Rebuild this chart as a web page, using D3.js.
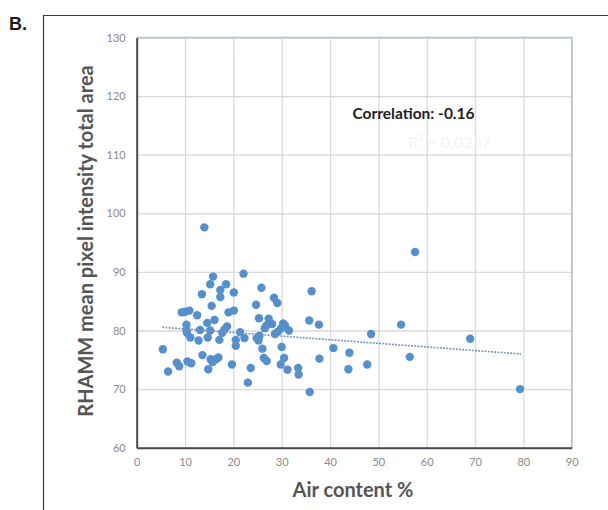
<!DOCTYPE html>
<html>
<head>
<meta charset="utf-8">
<script src="https://cdn.jsdelivr.net/npm/d3@7"></script>
<style>
  html, body { margin: 0; padding: 0; background: #fff; }
  svg { display: block; }
</style>
</head>
<body>
<svg id="chart" width="608" height="510"></svg>
<script>
// Air content (%) of each sample
const airContent = [
  5.4, 6.5, 8.3, 8.8, 9.3, 10.0, 10.9, 10.3, 10.3, 10.4,
  10.5, 11.3, 11.1, 12.5, 12.8, 13.1, 13.5, 13.6, 14.0, 14.6,
  14.7, 14.8, 15.2, 15.2, 15.5, 15.8, 15.3, 15.7, 16.4, 16.9,
  16.1, 17.3, 17.3, 17.1, 17.7, 18.2, 18.7, 18.5, 19.0, 19.7,
  20.1, 20.1, 20.5, 20.5, 21.4, 22.1, 22.3, 23.0, 23.6, 24.7,
  24.8, 25.4, 25.2, 25.3, 25.8, 26.0, 26.3, 26.9, 27.3, 26.8,
  26.5, 28.0, 28.4, 29.1, 30.3, 30.7, 29.9, 29.2, 28.6, 31.5,
  30.0, 30.5, 29.8, 31.2, 33.4, 33.5, 35.8, 36.2, 35.7, 37.7,
  37.8, 40.7, 44.0, 43.8, 47.7, 48.5, 54.7, 56.5, 57.6, 69.0,
  79.3
];
// RHAMM mean pixel intensity over the total area, same order
const rhammIntensity = [
  76.8, 73.0, 74.5, 73.9, 83.1, 83.2, 83.4, 81.0, 80.1, 79.6,
  74.7, 74.4, 78.8, 82.6, 78.3, 80.1, 86.2, 75.8, 97.6, 81.3,
  78.8, 73.4, 87.9, 80.0, 84.2, 89.2, 75.1, 74.6, 75.1, 75.4,
  81.8, 86.9, 85.7, 78.4, 79.6, 80.2, 80.7, 87.9, 83.1, 74.2,
  86.5, 83.4, 78.4, 77.4, 79.7, 89.7, 78.7, 71.1, 73.6, 84.4,
  78.7, 79.1, 78.3, 82.1, 87.3, 76.9, 75.3, 74.8, 82.0, 80.8,
  80.4, 81.1, 85.6, 84.7, 81.2, 80.8, 80.4, 79.8, 79.4, 80.0,
  77.2, 75.3, 74.2, 73.3, 73.6, 72.5, 69.5, 86.7, 81.7, 81.0,
  75.2, 77.0, 76.2, 73.4, 74.2, 79.4, 81.0, 75.5, 93.4, 78.6,
  70.0
];

// linear trend line end points (air content %, intensity)
const trendX = [5.3, 79.5];
const trendY = [80.55, 76.0];

const xTicks = [0, 10, 20, 30, 40, 50, 60, 70, 80, 90];
const yTicks = [60, 70, 80, 90, 100, 110, 120, 130];

const panelLabel = "B.";
const xTitle = "Air content %";
const yTitle = "RHAMM mean pixel intensity total area";
const correlationLabel = "Correlation: -0.16";
const fitLabel = "R\u00B2 = 0.0257";

const points = airContent.map((x, i) => ({ x, y: rhammIntensity[i] }));
const trend = trendX.map((x, i) => ({ x, y: trendY[i] }));

const svg = d3.select("#chart");
const font = "Lato, 'Open Sans', 'DejaVu Sans', sans-serif";

const plot = { left: 136.7, right: 571.7, top: 37.5, bottom: 447.7 };

const x = d3.scaleLinear().domain([0, 90]).range([plot.left, plot.right]);
const y = d3.scaleLinear().domain([60, 130]).range([plot.bottom, plot.top]);

// outer figure frame (top and left edges)
svg.append("path")
  .attr("d", "M43.5,510 V15.5 H608")
  .attr("fill", "none")
  .attr("stroke", "#3a3a3a")
  .attr("stroke-width", 1.2);

// panel letter
svg.append("text")
  .attr("x", 9).attr("y", 30)
  .attr("font-family", "Arial, 'Liberation Sans', sans-serif")
  .attr("font-weight", "bold")
  .attr("font-size", 18)
  .attr("fill", "#1a1a1a")
  .text(panelLabel);

// gridlines
const gridX = svg.append("g")
  .attr("transform", `translate(0,${plot.bottom})`)
  .call(d3.axisBottom(x).tickValues(xTicks).tickSize(-(plot.bottom - plot.top)).tickFormat(""));
gridX.select(".domain").remove();
gridX.selectAll("line").attr("stroke", "#d9d9d9").attr("stroke-width", 1.3);

const gridY = svg.append("g")
  .attr("transform", `translate(${plot.left},0)`)
  .call(d3.axisLeft(y).tickValues(yTicks).tickSize(-(plot.right - plot.left)).tickFormat(""));
gridY.select(".domain").remove();
gridY.selectAll("line").attr("stroke", "#d9d9d9").attr("stroke-width", 1.3);

// light plot-area border on top and right
svg.append("path")
  .attr("d", `M${plot.left},${plot.top} H${plot.right} V${plot.bottom}`)
  .attr("fill", "none")
  .attr("stroke", "#a9c4dc")
  .attr("stroke-width", 1.5);

// axes with tick labels
const xAxis = svg.append("g")
  .attr("transform", `translate(0,${plot.bottom})`)
  .call(d3.axisBottom(x).tickValues(xTicks).tickSize(0).tickPadding(11));
const yAxis = svg.append("g")
  .attr("transform", `translate(${plot.left},0)`)
  .call(d3.axisLeft(y).tickValues(yTicks).tickSize(0).tickPadding(11));

[xAxis, yAxis].forEach(g => {
  g.select(".domain").attr("stroke", "#4a4a4a").attr("stroke-width", 2);
  g.selectAll("text")
    .attr("font-family", font)
    .attr("font-size", 11)
    .attr("fill", "#8a8a8a");
});

// scatter points
svg.append("g")
  .selectAll("circle")
  .data(points)
  .join("circle")
  .attr("cx", d => x(d.x))
  .attr("cy", d => y(d.y))
  .attr("r", 4.2)
  .attr("fill", "#5590cc");

// dotted linear trend line
svg.append("path")
  .datum(trend)
  .attr("d", d3.line().x(d => x(d.x)).y(d => y(d.y)))
  .attr("fill", "none")
  .attr("stroke", "#6f8fb5")
  .attr("stroke-width", 1.6)
  .attr("stroke-dasharray", "1.8,1.4");

// correlation annotation
svg.append("text")
  .attr("x", 352.5).attr("y", 118.5)
  .attr("font-family", font)
  .attr("font-weight", "bold")
  .attr("font-size", 15.5)
  .attr("fill", "#222")
  .text(correlationLabel);

// faint fit statistic beneath it
svg.append("text")
  .attr("x", 408).attr("y", 148)
  .attr("font-family", font)
  .attr("font-size", 16)
  .attr("fill", "#f3f3f3")
  .text(fitLabel);

// axis titles
svg.append("text")
  .attr("x", 353).attr("y", 497)
  .attr("text-anchor", "middle")
  .attr("font-family", font)
  .attr("font-weight", "bold")
  .attr("font-size", 20)
  .attr("fill", "#555")
  .text(xTitle);

svg.append("text")
  .attr("transform", "translate(93,241) rotate(-90)")
  .attr("text-anchor", "middle")
  .attr("font-family", font)
  .attr("font-weight", "bold")
  .attr("font-size", 20)
  .attr("fill", "#555")
  .text(yTitle);
</script>
</body>
</html>
